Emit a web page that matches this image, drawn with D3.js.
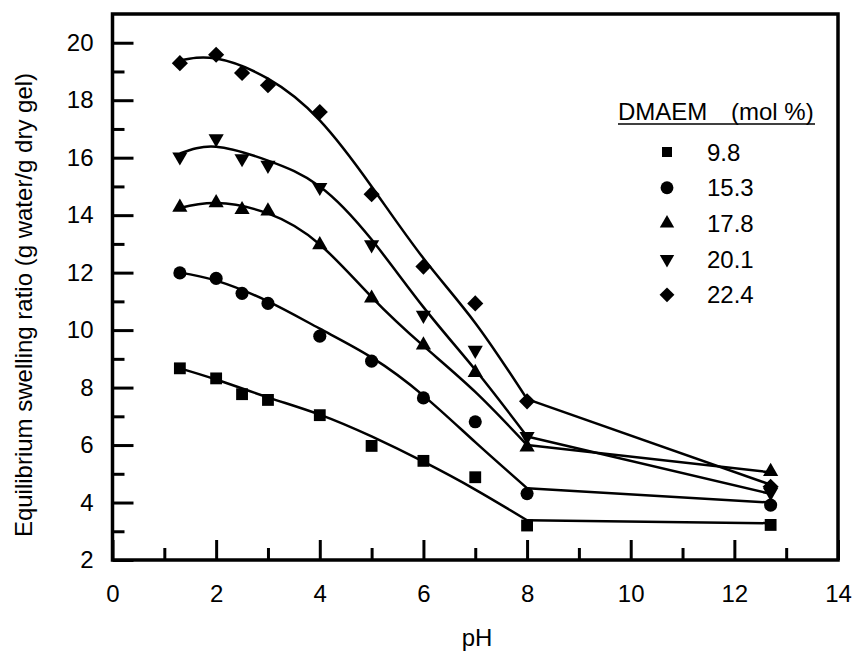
<!DOCTYPE html>
<html>
<head>
<meta charset="utf-8">
<script src="https://cdn.jsdelivr.net/npm/d3@7"></script>
<style>
  body { margin: 0; background: #fff; }
  text { font-family: "Liberation Sans", Arial, sans-serif; fill: #000; }
</style>
</head>
<body>
<div id="chart"></div>
<script>
// measured points
const pH = [1.3, 2, 2.5, 3, 4, 5, 6, 7, 8, 12.7];
const r98  = [8.67, 8.32, 7.77, 7.57, 7.04, 5.97, 5.45, 4.88, 3.2, 3.22];
const r153 = [11.99, 11.8, 11.28, 10.93, 9.79, 8.92, 7.64, 6.81, 4.31, 3.91];
const r178 = [14.27, 14.43, 14.19, 14.14, 12.97, 11.11, 9.48, 8.52, 5.93, 5.08];
const r201 = [16.03, 16.66, 15.97, 15.74, 14.97, 12.97, 10.52, 9.3, 6.3, 4.35];
const r224 = [19.29, 19.58, 18.95, 18.52, 17.59, 14.73, 12.21, 10.93, 7.52, 4.55];

// fitted curves (smooth to pH 8, then straight to 12.7)
const fitPH = [1.3, 2, 3, 4, 5, 6, 7, 8];
const tailPH = [8, 12.7];
const fit98  = [8.67, 8.28, 7.66, 7.06, 6.3, 5.42, 4.45, 3.38];
const fit153 = [12.0, 11.72, 11.0, 10.05, 9.05, 7.72, 6.1, 4.5];
const fit178 = [14.25, 14.42, 14.06, 12.98, 11.15, 9.45, 7.85, 6.0];
const fit201 = [16.15, 16.38, 15.9, 15.0, 13.15, 10.8, 8.62, 6.3];
const fit224 = [19.38, 19.45, 18.75, 17.3, 15.0, 12.5, 10.25, 7.6];
const end98 = 3.28, end153 = 4.0, end178 = 5.05, end201 = 4.3, end224 = 4.62;

const labels = ["9.8", "15.3", "17.8", "20.1", "22.4"];
const xMajor = [0, 2, 4, 6, 8, 10, 12, 14];
const xMinor = [1, 3, 5, 7, 9, 11, 13];
const yMajor = [2, 4, 6, 8, 10, 12, 14, 16, 18, 20];
const yMinor = [3, 5, 7, 9, 11, 13, 15, 17, 19];

const width = 853, height = 652;
const fs = "24px";
const svg = d3.select("#chart").append("svg")
    .attr("width", width)
    .attr("height", height);

const x = d3.scaleLinear().domain([0, 14]).range([112.5, 838]);
const y = d3.scaleLinear().domain([2, 21]).range([560, 14]);

// ticks (inward)
function drawTicks(axis, values, len, labelled, pad) {
    let a = axis.tickValues(values).tickSizeInner(-len).tickSizeOuter(0).tickPadding(pad);
    if (!labelled) a = a.tickFormat("");
    return a;
}
const gx = svg.append("g").attr("transform", "translate(0,560)");
gx.call(drawTicks(d3.axisBottom(x), xMajor, 20, true, 25));
const gxm = svg.append("g").attr("transform", "translate(0,560)");
gxm.call(drawTicks(d3.axisBottom(x), xMinor, 12, false, 0));
const gy = svg.append("g").attr("transform", "translate(112.5,0)");
gy.call(drawTicks(d3.axisLeft(y), yMajor, 21, true, 19));
const gym = svg.append("g").attr("transform", "translate(112.5,0)");
gym.call(drawTicks(d3.axisLeft(y), yMinor, 12, false, 0));

svg.selectAll(".domain").remove();
svg.selectAll(".tick line").attr("stroke", "#000").attr("stroke-width", 3);
svg.selectAll(".tick text")
    .style("font-family", '"Liberation Sans", Arial, sans-serif')
    .style("font-size", fs)
    .attr("fill", "#000");

// frame
svg.append("rect")
    .attr("x", x(0)).attr("y", y(21))
    .attr("width", x(14) - x(0)).attr("height", y(2) - y(21))
    .attr("fill", "none").attr("stroke", "#000").attr("stroke-width", 3.5);

// axis titles
svg.append("text")
    .attr("x", 477).attr("y", 646)
    .attr("text-anchor", "middle")
    .style("font-size", fs)
    .text("pH");
svg.append("text")
    .attr("transform", "translate(32," + 305 + ") rotate(-90)")
    .attr("text-anchor", "middle")
    .style("font-size", fs)
    .text("Equilibrium swelling ratio (g water/g dry gel)");

// series
const series = [
    {vals: r98,  fit: fit98,  end: end98,  sym: d3.symbolSquare,   size: 140, rot: 0},
    {vals: r153, fit: fit153, end: end153, sym: d3.symbolCircle,   size: 135, rot: 0},
    {vals: r178, fit: fit178, end: end178, sym: d3.symbolTriangle, size: 100, rot: 0},
    {vals: r201, fit: fit201, end: end201, sym: d3.symbolTriangle, size: 100, rot: 180},
    {vals: r224, fit: fit224, end: end224, sym: d3.symbolSquare,   size: 130, rot: 45}
];

const smooth = d3.line().curve(d3.curveNatural).x(d => x(d[0])).y(d => y(d[1]));
const straight = d3.line().x(d => x(d[0])).y(d => y(d[1]));

series.forEach(s => {
    svg.append("path")
        .attr("d", smooth(fitPH.map((p, i) => [p, s.fit[i]])))
        .attr("fill", "none").attr("stroke", "#000").attr("stroke-width", 2.5);
    svg.append("path")
        .attr("d", straight([[tailPH[0], s.fit[s.fit.length - 1]], [tailPH[1], s.end]]))
        .attr("fill", "none").attr("stroke", "#000").attr("stroke-width", 2.5);
});

series.forEach(s => {
    svg.append("g").selectAll("path")
        .data(pH.map((p, i) => [p, s.vals[i]]))
        .join("path")
        .attr("d", d3.symbol(s.sym, s.size))
        .attr("transform", d => "translate(" + x(d[0]) + "," + y(d[1]) + ") rotate(" + s.rot + ")")
        .attr("fill", "#000");
});

// legend
const lg = svg.append("g");
lg.append("text")
    .attr("x", 618).attr("y", 120)
    .style("font-size", fs)
    .text("DMAEM");
lg.append("text")
    .attr("x", 731).attr("y", 120)
    .style("font-size", fs)
    .text("(mol %)");
lg.append("line")
    .attr("x1", 618).attr("x2", 815).attr("y1", 124).attr("y2", 124)
    .attr("stroke", "#000").attr("stroke-width", 1.5);

const legendScale = [100, 130, 90, 90, 110];
series.forEach((s, i) => {
    const cy = 152 + i * 35.7;
    lg.append("path")
        .attr("d", d3.symbol(s.sym, legendScale[i]))
        .attr("transform", "translate(667," + cy + ") rotate(" + s.rot + ")")
        .attr("fill", "#000");
    lg.append("text")
        .attr("x", 707).attr("y", cy + 8.5)
        .style("font-size", fs)
        .text(labels[i]);
});
</script>
</body>
</html>
